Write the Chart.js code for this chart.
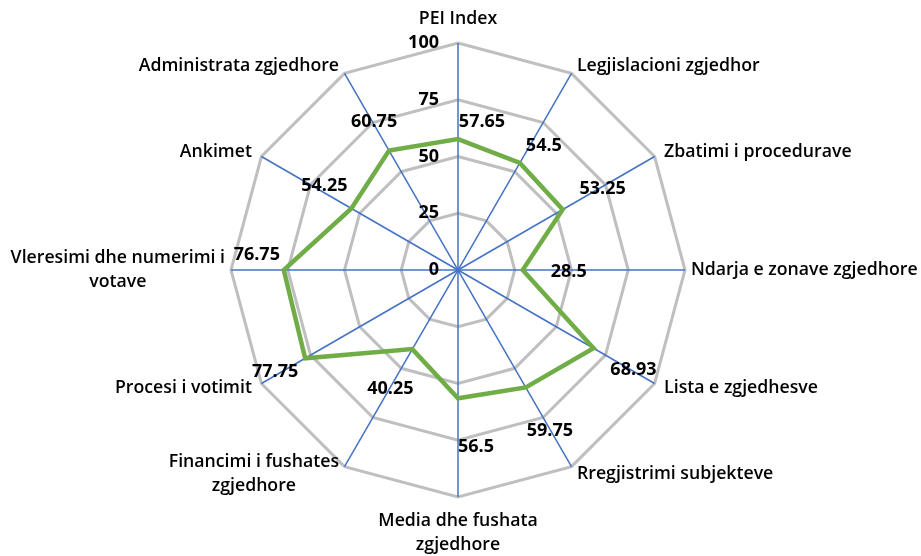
<!DOCTYPE html>
<html>
<head>
<meta charset="utf-8">
<script src="https://cdn.jsdelivr.net/npm/chart.js@4.4.1/dist/chart.umd.min.js"></script>
<style>
  html, body { margin: 0; padding: 0; background: #fff; }
  #wrap { width: 921px; height: 556px; }
</style>
</head>
<body>
<div id="wrap"><canvas id="radarChart" width="921" height="556"></canvas></div>
<script>
// ---- data ----
const categories = [
    'PEI Index',
    'Legjislacioni zgjedhor',
    'Zbatimi i procedurave',
    'Ndarja e zonave zgjedhore',
    'Lista e zgjedhesve',
    'Rregjistrimi subjekteve',
    ['Media dhe fushata', 'zgjedhore'],
    ['Financimi i fushates', 'zgjedhore'],
    'Procesi i votimit',
    ['Vleresimi dhe numerimi i', 'votave'],
    'Ankimet',
    'Administrata zgjedhore'
];
const scores = [57.65, 54.5, 53.25, 28.5, 68.93, 59.75, 56.5, 40.25, 77.75, 76.75, 54.25, 60.75];
const scoreText = ['57.65', '54.5', '53.25', '28.5', '68.93', '59.75', '56.5', '40.25', '77.75', '76.75', '54.25', '60.75'];
const tickValues = [0, 25, 50, 75, 100];

// label offsets from each point (px), as placed in the original
const labelShift = [[24, -17], [24, -17], [40, -21], [46, 2], [40, 22], [24, 43],
                    [18, 49], [-22, 40], [-30, 14], [-27, -15], [-27, -23], [-15, -29]];

const FONT = '"Open Sans", "Liberation Sans", Arial, sans-serif';
const LINE_H = 24;

// values next to the points
const valueLabels = {
    id: 'valueLabels',
    afterDatasetsDraw(chart) {
        const ctx = chart.ctx;
        const meta = chart.getDatasetMeta(0);
        ctx.save();
        ctx.font = 'bold 18px ' + FONT;
        ctx.fillStyle = '#000';
        ctx.textAlign = 'center';
        ctx.textBaseline = 'middle';
        meta.data.forEach((pt, i) => {
            const s = labelShift[i] || [0, 0];
            ctx.fillText(scoreText[i], pt.x + s[0], pt.y + s[1]);
        });
        ctx.restore();
    }
};

// category names round the outside (multi-line ones centred line by line)
const categoryLabels = {
    id: 'categoryLabels',
    afterDraw(chart) {
        const ctx = chart.ctx;
        const r = chart.scales.r;
        const n = chart.data.labels.length;
        ctx.save();
        ctx.font = '600 17.7px ' + FONT;
        ctx.fillStyle = '#000';
        ctx.textAlign = 'center';
        ctx.textBaseline = 'middle';
        chart.data.labels.forEach((lab, i) => {
            const lines = Array.isArray(lab) ? lab : [lab];
            const deg = Math.round(i * 360 / n);
            const rad = deg * Math.PI / 180;
            const end = r.getPointPosition(i, r.drawingArea);
            const w = Math.max(...lines.map(l => ctx.measureText(l).width));
            const h = lines.length * LINE_H;

            const off = Math.abs((deg % 180) - 90);
            const gap = off === 30 ? 9.5 : (off === 60 ? 5.5 : 6);

            let cx, cy;
            if (deg === 0) {
                cx = end.x; cy = end.y - 12 - h / 2;
            } else if (deg === 180) {
                cx = end.x; cy = end.y + 12 + h / 2;
            } else {
                cx = deg < 180 ? end.x + gap + w / 2 : end.x - gap - w / 2;
                cy = end.y - Math.cos(rad) * 9;
            }
            lines.forEach((l, k) => {
                ctx.fillText(l, cx, cy - h / 2 + LINE_H * (k + 0.5));
            });
        });
        ctx.restore();
    }
};

// 0..100 ticks, right aligned left of the vertical axis
const tickLabels = {
    id: 'tickLabels',
    afterDraw(chart) {
        const ctx = chart.ctx;
        const r = chart.scales.r;
        ctx.save();
        ctx.font = 'bold 18px ' + FONT;
        ctx.fillStyle = '#000';
        ctx.textAlign = 'right';
        ctx.textBaseline = 'middle';
        tickValues.forEach(v => {
            const p = r.getPointPositionForValue(0, v);
            ctx.fillText(String(v), p.x - 19, p.y);
        });
        ctx.restore();
    }
};

new Chart(document.getElementById('radarChart'), {
    type: 'radar',
    data: {
        labels: categories,
        datasets: [{
            label: 'PEI',
            data: scores,
            borderColor: '#70AD47',
            borderWidth: 4.5,
            backgroundColor: 'transparent',
            fill: false,
            pointRadius: 0,
            pointHoverRadius: 0,
            tension: 0
        }]
    },
    options: {
        responsive: false,
        animation: false,
        layout: { padding: { top: 43, bottom: 59, left: 0, right: 5 } },
        plugins: {
            legend: { display: false },
            tooltip: { enabled: false }
        },
        scales: {
            r: {
                min: 0,
                max: 100,
                ticks: { stepSize: 25, display: false },
                grid: { color: '#BFBFBF', lineWidth: 3 },
                angleLines: { color: '#4472C4', lineWidth: 1.5 },
                pointLabels: { display: false }
            }
        }
    },
    plugins: [valueLabels, categoryLabels, tickLabels]
});
</script>
</body>
</html>
